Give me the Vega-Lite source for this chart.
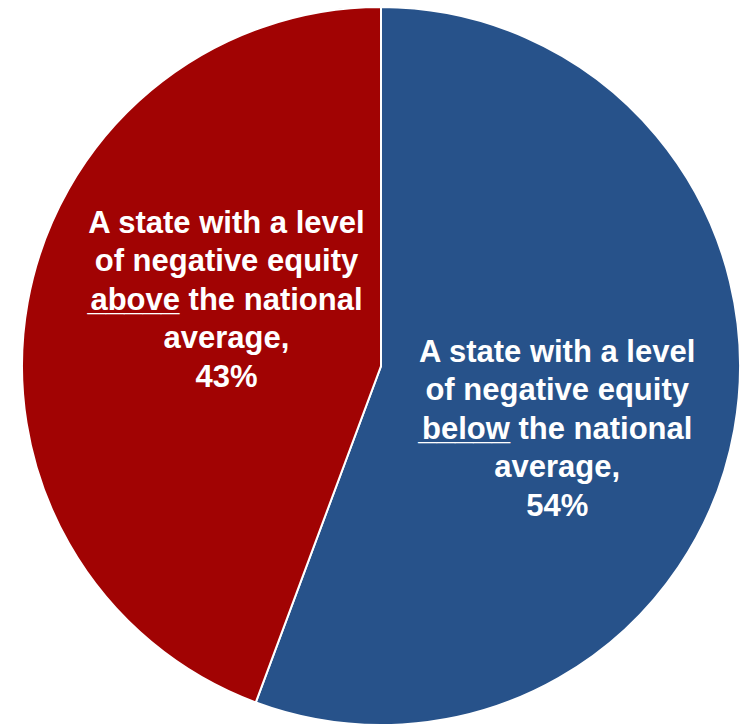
{
  "$schema": "https://vega.github.io/schema/vega-lite/v6.json",
  "width": 740,
  "height": 728,
  "autosize": {"type": "fit", "contains": "padding"},
  "padding": {"left": 22, "top": 4, "right": 0, "bottom": 0},
  "background": "white",
  "view": {"stroke": null},
  "data": {
    "values": [
      {"cat": "below", "order": 1, "value": 54, "label": "A state with a level\nof negative equity\nbelow the national\naverage,\n54%"},
      {"cat": "above", "order": 2, "value": 43, "label": "A state with a level\nof negative equity\nabove the national\naverage,\n43%"}
    ]
  },
  "encoding": {
    "theta": {"field": "value", "type": "quantitative", "stack": true},
    "order": {"field": "order", "type": "quantitative"}
  },
  "layer": [
    {
      "mark": {"type": "arc", "outerRadius": 359, "stroke": "white", "strokeWidth": 2},
      "encoding": {
        "color": {"field": "cat", "type": "nominal", "scale": {"domain": ["below", "above"], "range": ["#27528A", "#A10303"]}, "legend": null}
      }
    },
    {
      "mark": {"type": "text", "radius": 179, "dy": -36, "font": "Liberation Sans", "fontWeight": "bold", "fontSize": 31, "lineHeight": 38.5, "lineBreak": "\n", "align": "center", "baseline": "alphabetic", "fill": "white"},
      "encoding": {
        "text": {"field": "label", "type": "nominal"},
        "opacity": {"condition": {"test": "datum.cat === 'below'", "value": 1}, "value": 0}
      }
    },
    {
      "mark": {"type": "text", "radius": 157, "dy": -105.5, "font": "Liberation Sans", "fontWeight": "bold", "fontSize": 31, "lineHeight": 38.5, "lineBreak": "\n", "align": "center", "baseline": "alphabetic", "fill": "white"},
      "encoding": {
        "text": {"field": "label", "type": "nominal"},
        "opacity": {"condition": {"test": "datum.cat === 'above'", "value": 1}, "value": 0}
      }
    },
    {
      "mark": {"type": "text", "radius": 179, "dx": -93, "dy": 41, "font": "Liberation Sans", "fontWeight": "bold", "fontSize": 33, "align": "center", "baseline": "alphabetic", "fill": "white"},
      "encoding": {
        "text": {"condition": {"test": "datum.cat === 'below'", "value": "_____"}, "value": ""}
      }
    },
    {
      "mark": {"type": "text", "radius": 157, "dx": -93, "dy": -28.5, "font": "Liberation Sans", "fontWeight": "bold", "fontSize": 33, "align": "center", "baseline": "alphabetic", "fill": "white"},
      "encoding": {
        "text": {"condition": {"test": "datum.cat === 'above'", "value": "_____"}, "value": ""}
      }
    }
  ]
}
